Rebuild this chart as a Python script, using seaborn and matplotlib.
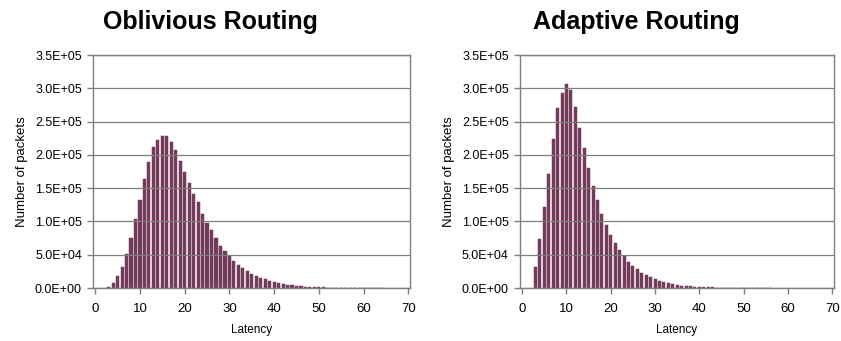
import matplotlib
matplotlib.use("Agg")
import matplotlib.pyplot as plt
from matplotlib.ticker import FuncFormatter, MultipleLocator
import seaborn as sns
import numpy as np
import pandas as pd

# packet counts per latency value
obl_latency = list(range(3, 65))
obl_packets = [2000, 7500, 17500, 31500, 50500, 75000, 103500, 132500, 163500, 190000,
               211500, 222000, 229000, 228000, 220000, 208000, 191000, 174000, 158500, 141500,
               128500, 111500, 97500, 86500, 74500, 63500, 55000, 47500, 40500, 35000,
               30500, 25500, 21000, 18000, 15000, 12800, 11000, 9500, 7500, 6000,
               5000, 4000, 3200, 2500, 2000, 1600, 1300, 1000, 800, 650,
               520, 420, 340, 280, 230, 190, 160, 130, 110, 90,
               70, 55]

ada_latency = list(range(3, 57))
ada_packets = [31500, 73500, 121000, 171500, 223500, 270000, 293000, 307000, 297000, 271500,
               241000, 210000, 181000, 154000, 133000, 111000, 94000, 79000, 67000, 57000,
               48500, 39500, 33000, 28000, 23000, 19000, 16000, 13000, 10500, 8500,
               7000, 5500, 4500, 3500, 3000, 2300, 1900, 1500, 1200, 1000,
               800, 650, 500, 400, 330, 270, 220, 180, 140, 110,
               90, 70, 55, 40]

titles = ["Oblivious Routing", "Adaptive Routing"]

sns.set_style("white")
plt.rcParams["font.family"] = ["Liberation Sans", "DejaVu Sans"]
plt.rcParams["text.color"] = "black"
plt.rcParams["axes.labelcolor"] = "black"
plt.rcParams["xtick.labelcolor"] = "black"
plt.rcParams["ytick.labelcolor"] = "black"

BAR = "#743a5a"
GRID = "#7f7f7f"

fig = plt.figure(figsize=(8.41, 3.41), dpi=100)
ax_left = fig.add_axes([0.1106, 0.1554, 0.377, 0.683])
ax_right = fig.add_axes([0.6183, 0.1554, 0.3734, 0.683])

datasets = [(obl_latency, obl_packets), (ada_latency, ada_packets)]

for ax, (lat, pk), title in zip([ax_left, ax_right], datasets, titles):
    df = pd.DataFrame({"latency": lat, "packets": pk})
    sns.barplot(data=df, x="latency", y="packets", native_scale=True, width=0.7,
                color=BAR, edgecolor=BAR, linewidth=0.35, saturation=1, ax=ax)
    ax.set_xlim(-0.5, 70.4)
    ax.set_ylim(0, 3.5e5)
    ax.xaxis.set_major_locator(MultipleLocator(10))
    ax.yaxis.set_major_locator(MultipleLocator(5e4))
    ax.yaxis.set_major_formatter(FuncFormatter(lambda v, p: f"{v:.1E}"))
    ax.grid(axis="y", color=GRID, linewidth=0.9)
    ax.set_axisbelow(False)
    for s in ax.spines.values():
        s.set_color(GRID)
        s.set_linewidth(1.0)
    ax.tick_params(axis="both", direction="out", length=4, width=1.0,
                   color=GRID, labelsize=9, bottom=True, left=True)
    ax.tick_params(axis="y", pad=4)
    ax.tick_params(axis="x", labelsize=9.5, pad=7)
    ax.set_xlabel("Latency", fontsize=8.5, labelpad=6)
    ax.set_ylabel("Number of packets", fontsize=9.5, labelpad=5)
    ax.set_title(title, fontsize=18, fontweight="bold", x=0.37, pad=19, color="black")

fig.savefig("out.png", dpi=100)
